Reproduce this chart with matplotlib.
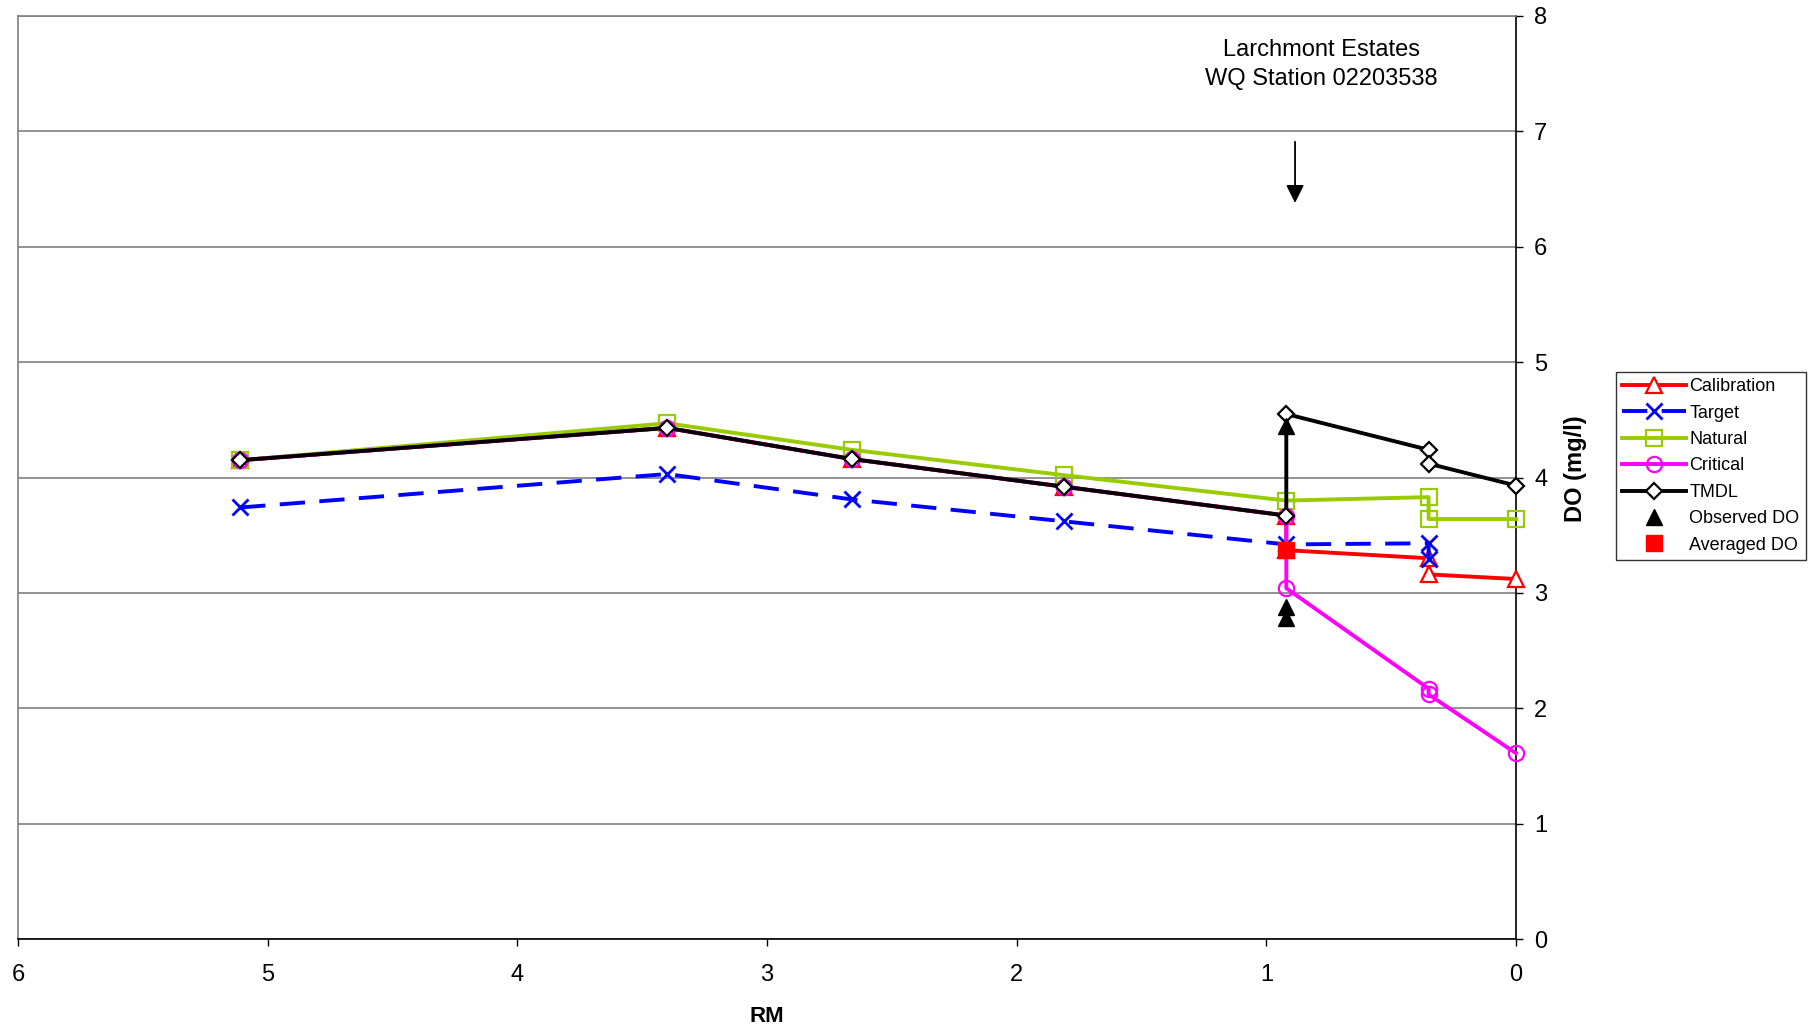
import matplotlib
matplotlib.use("Agg")
import matplotlib.pyplot as plt

plt.rcParams['font.family'] = ['Liberation Sans', 'DejaVu Sans']

# river mile positions (several series have two values at one station)
rm = [5.11, 3.40, 2.66, 1.81, 0.92, 0.92, 0.35, 0.35, 0.0]
calibration = [4.15, 4.43, 4.16, 3.92, 3.67, 3.37, 3.30, 3.16, 3.12]
critical = [4.15, 4.43, 4.16, 3.92, 3.67, 3.04, 2.17, 2.12, 1.61]
tmdl = [4.15, 4.43, 4.16, 3.92, 3.67, 4.55, 4.24, 4.12, 3.93]

rm_target = [5.11, 3.40, 2.66, 1.81, 0.92, 0.35, 0.35]
target = [3.74, 4.03, 3.81, 3.62, 3.42, 3.43, 3.29]

rm_natural = [5.11, 3.40, 2.66, 1.81, 0.92, 0.35, 0.35, 0.0]
natural = [4.15, 4.47, 4.24, 4.02, 3.80, 3.83, 3.64, 3.64]

rm_observed = [0.92, 0.92, 0.92]
observed = [4.45, 2.88, 2.78]
rm_averaged = [0.92]
averaged = [3.37]

station_label = "Larchmont Estates\nWQ Station 02203538"

fig = plt.figure(figsize=(18.18, 10.31), dpi=100)
ax = fig.add_axes([18 / 1818, 1 - 939 / 1031, 1498 / 1818, 923 / 1031])

lw = 2.8
ax.plot(rm, calibration, color='#FF0000', lw=lw, marker='^', ms=11,
        mfc='white', mec='#FF0000', mew=1.6, label='Calibration', zorder=3,
        clip_on=False)
ax.plot(rm_target, target, color='#0000FF', lw=lw, dashes=(6.5, 3.7),
        marker='x', ms=12, mew=2, label='Target', zorder=3, clip_on=False)
ax.plot(rm_natural, natural, color='#99CC00', lw=lw, marker='s', ms=11,
        mfc='none', mec='#99CC00', mew=1.6, label='Natural', zorder=3,
        clip_on=False)
ax.plot(rm, critical, color='#FF00FF', lw=lw, marker='o', ms=11,
        mfc='none', mec='#FF00FF', mew=1.6, label='Critical', zorder=3,
        clip_on=False)
ax.plot(rm, tmdl, color='black', lw=lw, marker='D', ms=8,
        mfc='white', mec='black', mew=1.6, label='TMDL', zorder=4,
        clip_on=False)
ax.plot(rm_observed, observed, ls='none', marker='^', ms=11,
        color='black', label='Observed DO', zorder=5)
ax.plot(rm_averaged, averaged, ls='none', marker='s', ms=11,
        color='#FF0000', label='Averaged DO', zorder=5)

ax.set_xlim(6, 0)
ax.set_ylim(0, 8)
ax.set_xticks(range(0, 7))
ax.set_yticks(range(0, 9))

ax.yaxis.grid(True, color='#808080', lw=1.2)
ax.set_axisbelow(True)

ax.yaxis.tick_right()
ax.yaxis.set_label_position('right')
ax.tick_params(axis='both', direction='out', length=5, width=1,
               labelsize=17, colors='black')
ax.tick_params(axis='x', pad=13)
ax.tick_params(axis='y', pad=8)

for side in ['left', 'top']:
    ax.spines[side].set_color('#808080')
for side in ['right', 'bottom']:
    ax.spines[side].set_color('black')
for s in ax.spines.values():
    s.set_linewidth(1.2)

ax.set_xlabel('RM', fontsize=16, fontweight='bold')
ax.xaxis.set_label_coords(0.5, -0.073)
ax.set_ylabel('DO (mg/l)', fontsize=17, fontweight='bold')
ax.yaxis.set_label_coords(1.032, 0.51)

ax.text(0.778, 7.58, station_label, ha='center', va='center',
        fontsize=17, linespacing=1.4)
ax.annotate('', xy=(0.885, 6.38), xytext=(0.885, 6.91),
            arrowprops=dict(arrowstyle='-|>', color='black', lw=1.3,
                            mutation_scale=27, shrinkA=0, shrinkB=0))

leg = ax.legend(loc='upper left', bbox_to_anchor=(1616 / 1818, 1 - 372 / 1031),
                bbox_transform=fig.transFigure, fontsize=13, frameon=True,
                fancybox=False, edgecolor='black', borderaxespad=0,
                handlelength=3.5, handletextpad=0.2, borderpad=0.35,
                labelspacing=0.52)
leg.get_frame().set_linewidth(1.0)

fig.savefig('out.png', dpi=100)
